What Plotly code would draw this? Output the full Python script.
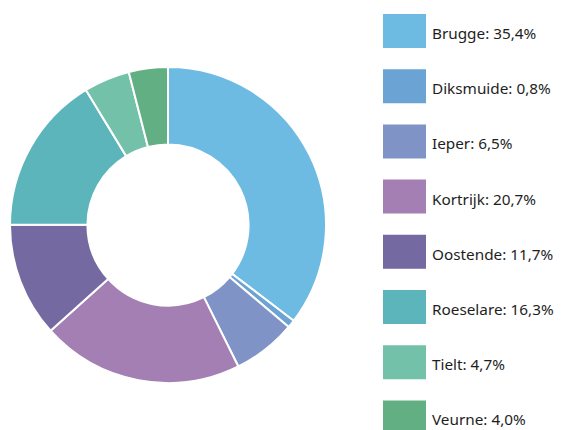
import plotly.graph_objects as go

# The page body has an 8px margin, so the figure starts at (8, 8) in the window.
OFF = 8
W, H = 562 - OFF, 430 - OFF

cities = ["Brugge", "Diksmuide", "Ieper", "Kortrijk", "Oostende", "Roeselare", "Tielt", "Veurne"]
shares = [35.4, 0.8, 6.5, 20.7, 11.7, 16.3, 4.7, 4.0]
share_labels = ["35,4%", "0,8%", "6,5%", "20,7%", "11,7%", "16,3%", "4,7%", "4,0%"]
colors = ["#6dbbe3", "#6aa3d4", "#7f93c7", "#a47fb3", "#7569a1", "#5bb5bb", "#74c1a9", "#63af84"]


def px(x):
    return (x - OFF) / W


def py(y):
    return 1 - (y - OFF) / H


fig = go.Figure()
fig.add_trace(go.Pie(
    labels=cities, values=shares, hole=0.51, sort=False, direction="clockwise", rotation=0,
    marker=dict(colors=colors, line=dict(color="white", width=2)),
    textinfo="none", hoverinfo="label+percent", showlegend=False,
    domain=dict(x=[px(10), px(326)], y=[py(383), py(67)]),
))

# legend drawn manually
sq_x0, sq_x1 = 383, 426
top0, sq_h, step = 14, 34, 55.2
shapes, annots = [], []
for i, (c, s, col) in enumerate(zip(cities, share_labels, colors)):
    y0 = top0 + i * step
    y1 = y0 + sq_h
    shapes.append(dict(type="rect", xref="paper", yref="paper",
                       x0=px(sq_x0), x1=px(sq_x1), y0=py(y1), y1=py(y0),
                       fillcolor=col, line=dict(width=0)))
    annots.append(dict(xref="paper", yref="paper", x=px(430), y=py(y0 + sq_h / 2 + 2),
                       text=f"{c}: {s}", showarrow=False, xanchor="left", yanchor="middle",
                       font=dict(family="Noto Sans", size=15.3, color="#1e1e1e")))

fig.update_layout(width=W, height=H, margin=dict(l=0, r=0, t=0, b=0),
                  paper_bgcolor="white", plot_bgcolor="white",
                  shapes=shapes, annotations=annots)
fig.write_html("out.html")
